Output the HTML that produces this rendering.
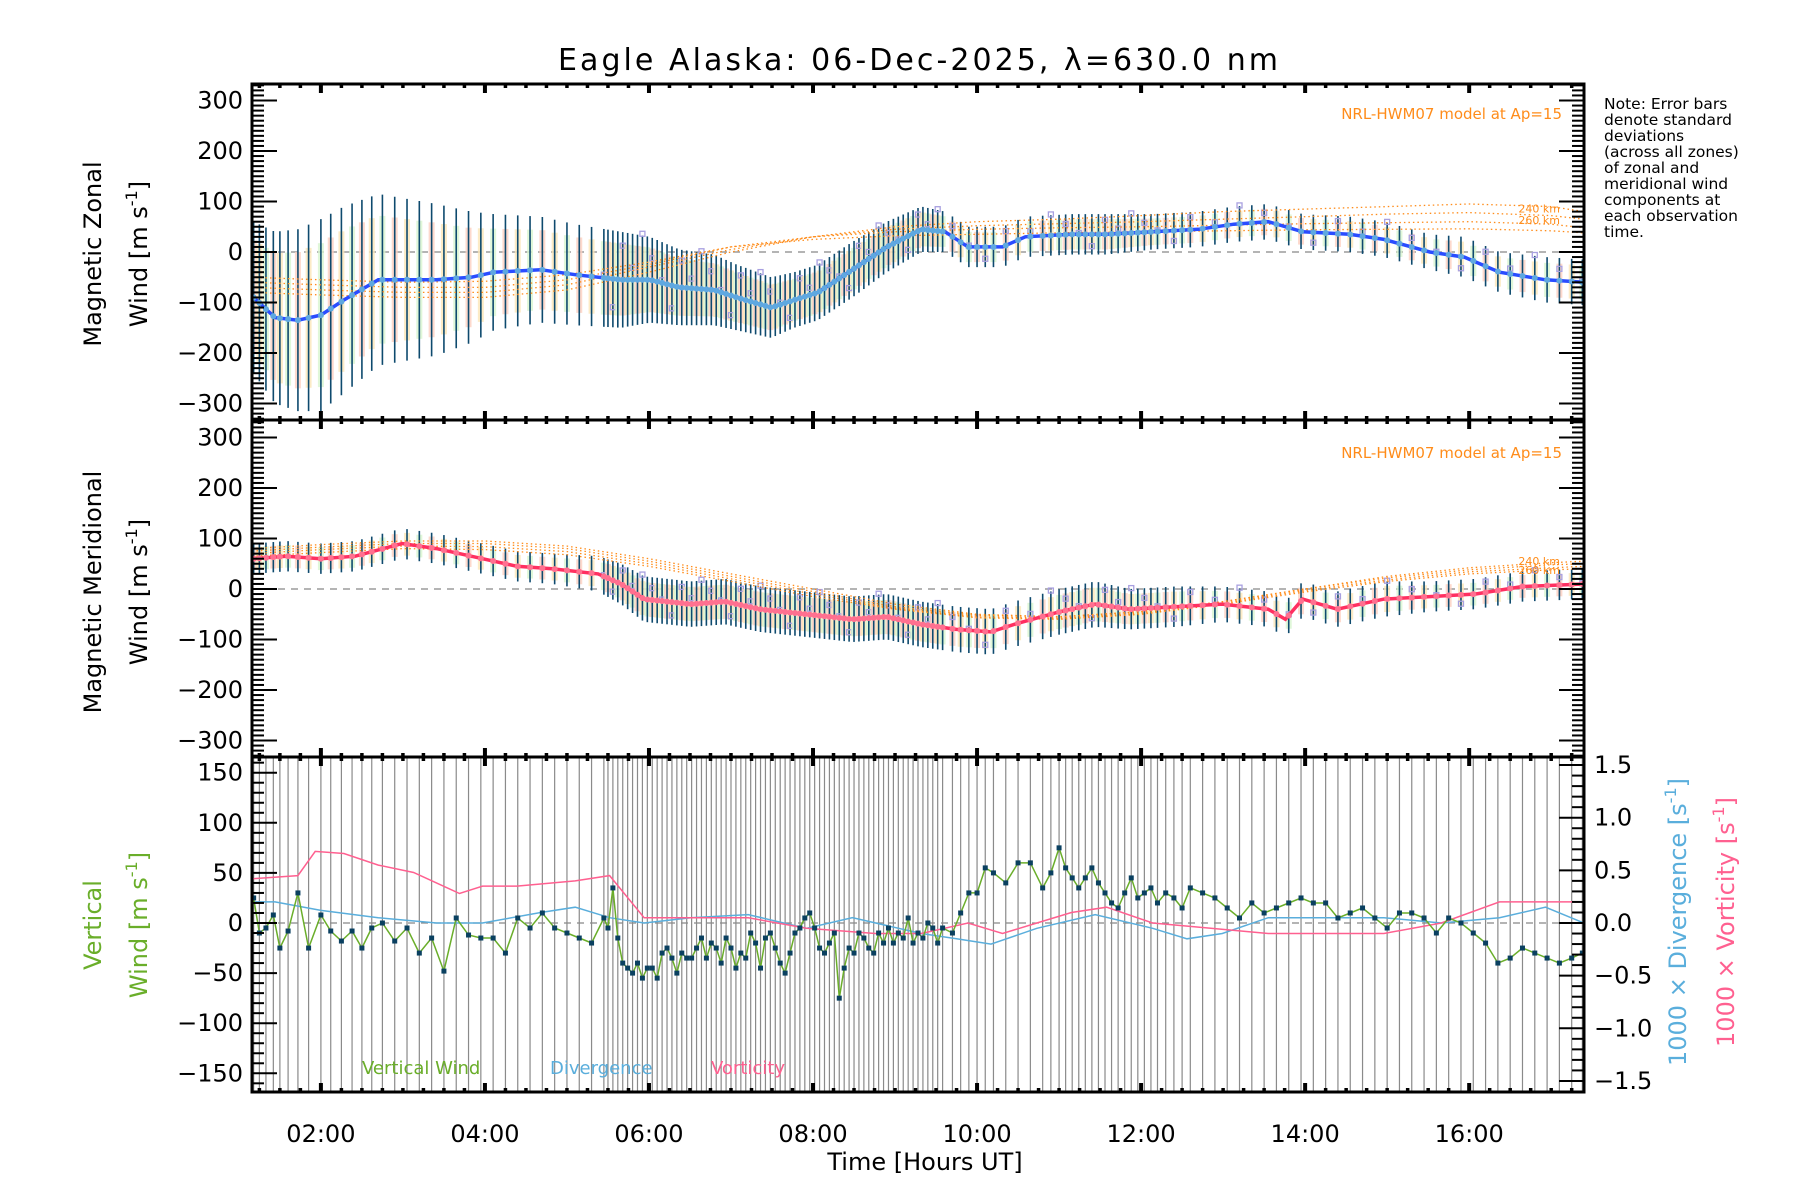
<!DOCTYPE html>
<html><head><meta charset="utf-8"><style>
html,body{margin:0;padding:0;background:#fff;}
svg{display:block;font-family:"DejaVu Sans","Liberation Sans",sans-serif;}
</style></head><body>
<svg id="chart" width="1800" height="1200" viewBox="0 0 1800 1200" xmlns="http://www.w3.org/2000/svg">
<rect width="1800" height="1200" fill="#fff"/>
<text x="918" y="70" font-size="30" text-anchor="middle" textLength="720">Eagle Alaska: 06-Dec-2025, λ=630.0 nm</text>
<g id="layer-bg"></g><g id="layer-data"></g><g id="layer-axes"></g>
<g font-size="15.5" fill="#000">
<text x="1604" y="109">Note: Error bars</text><text x="1604" y="125">denote standard</text><text x="1604" y="141">deviations</text><text x="1604" y="157">(across all zones)</text><text x="1604" y="173">of zonal and</text><text x="1604" y="189">meridional wind</text><text x="1604" y="205">components at</text><text x="1604" y="221">each observation</text><text x="1604" y="237">time.</text>
</g>
<text x="1562" y="119" font-size="15" fill="#ff8c1a" text-anchor="end">NRL-HWM07 model at Ap=15</text>
<text x="1562" y="458" font-size="15" fill="#ff8c1a" text-anchor="end">NRL-HWM07 model at Ap=15</text>
<g font-size="24" fill="#000">
<text transform="translate(101,254) rotate(-90)" text-anchor="middle">Magnetic Zonal</text>
<text transform="translate(147,254) rotate(-90)" text-anchor="middle">Wind [m s<tspan dy="-10" font-size="16">-1</tspan><tspan dy="10">]</tspan></text>
<text transform="translate(101,592) rotate(-90)" text-anchor="middle">Magnetic Meridional</text>
<text transform="translate(147,592) rotate(-90)" text-anchor="middle">Wind [m s<tspan dy="-10" font-size="16">-1</tspan><tspan dy="10">]</tspan></text>
<text transform="translate(101,925) rotate(-90)" text-anchor="middle" fill="#6aae2a">Vertical</text>
<text transform="translate(147,925) rotate(-90)" text-anchor="middle" fill="#6aae2a">Wind [m s<tspan dy="-10" font-size="16">-1</tspan><tspan dy="10">]</tspan></text>
<text transform="translate(1686,922) rotate(-90)" text-anchor="middle" fill="#5aaedc">1000 × Divergence [s<tspan dy="-10" font-size="16">-1</tspan><tspan dy="10">]</tspan></text>
<text transform="translate(1734,922) rotate(-90)" text-anchor="middle" fill="#ff6090">1000 × Vorticity [s<tspan dy="-10" font-size="16">-1</tspan><tspan dy="10">]</tspan></text>
<text x="925" y="1170" text-anchor="middle">Time [Hours UT]</text>
</g>
<g font-size="18">
<text x="362" y="1074" fill="#6aae2a">Vertical Wind</text>
<text x="550" y="1074" fill="#5aaedc">Divergence</text>
<text x="711" y="1074" fill="#ff6090">Vorticity</text>
</g>
</svg>
<script>
// ---- data ----
const zonalTimes=[1.18,1.44,1.72,2.0,2.28,2.70,3.41,3.83,4.11,4.68,5.10,5.66,6.01,6.37,6.79,7.07,7.49,7.77,8.06,8.48,8.90,9.32,9.61,9.89,10.31,10.59,11.15,11.58,12.14,12.70,13.13,13.55,13.97,14.54,14.96,15.52,15.94,16.37,16.93,17.4];
const zonalMean=[-90,-130,-135,-125,-95,-55,-55,-50,-40,-35,-45,-55,-55,-70,-75,-90,-110,-95,-80,-35,10,45,40,10,10,30,35,35,40,45,55,60,40,35,25,0,-10,-40,-55,-60];
const zonalStd=[150,170,180,190,185,170,150,130,115,105,100,95,85,75,70,65,60,55,55,55,50,45,40,40,40,40,40,40,35,35,35,35,35,35,35,35,40,40,45,45];
const meridTimes=[1.18,1.58,2.0,2.42,2.99,3.41,3.97,4.39,4.82,5.38,5.66,5.94,6.51,6.93,7.35,7.92,8.48,8.90,9.32,9.75,10.17,10.45,11.01,11.44,11.86,12.42,12.99,13.55,13.76,13.97,14.39,14.96,15.52,16.08,16.65,17.4];
const meridMean=[60,65,60,65,90,80,60,45,40,30,10,-20,-30,-25,-40,-50,-60,-55,-70,-80,-85,-70,-45,-30,-40,-35,-30,-40,-60,-20,-40,-20,-15,-10,5,10];
const meridStd=[30,30,30,30,30,30,30,30,30,35,40,45,45,45,45,45,45,45,45,45,45,45,45,45,40,40,35,35,35,35,35,35,30,30,30,30];
const modelTimes=[1.16,2,3,4,5,6,7,8,9,10,11,12,13,14,15,16,17,17.4];
const zonalModel240=[-80,-85,-90,-90,-75,-40,0,30,50,60,65,72,80,85,90,95,90,80];
const zonalModel260=[-70,-75,-80,-80,-65,-30,5,30,45,52,56,60,65,70,75,78,72,65];
const zonalModel220=[-60,-65,-70,-70,-55,-25,10,30,40,45,48,50,53,56,58,60,55,48];
const zonalModel200=[-50,-55,-60,-58,-45,-20,10,25,32,35,38,40,42,44,45,46,42,38];
const meridModel240=[80,88,95,95,85,60,30,0,-30,-50,-55,-45,-25,0,25,42,52,55];
const meridModel260=[75,83,90,90,80,55,25,-5,-35,-52,-55,-45,-25,0,22,38,48,50];
const meridModel220=[70,78,85,84,74,50,20,-10,-38,-55,-58,-48,-28,-3,18,34,42,45];
const meridModel200=[65,72,80,78,68,45,15,-15,-40,-57,-60,-50,-30,-6,15,30,38,40];
const vertTimes=[1.18,1.25,1.33,1.42,1.5,1.6,1.72,1.85,2.0,2.12,2.25,2.38,2.5,2.62,2.75,2.9,3.05,3.2,3.35,3.5,3.65,3.8,3.95,4.1,4.25,4.4,4.55,4.7,4.85,5.0,5.15,5.3,5.45,
5.5,5.56,5.62,5.68,5.74,5.8,5.86,5.92,5.98,6.04,6.1,6.16,6.22,6.28,6.34,6.4,6.46,6.52,6.58,6.64,6.7,6.76,6.82,6.88,6.94,7.0,7.06,7.12,7.18,7.24,7.3,7.36,7.42,7.48,7.54,7.6,7.66,7.72,7.78,7.84,7.9,7.96,8.02,8.08,8.14,8.2,8.26,8.32,8.38,8.44,8.5,8.56,8.62,8.68,8.74,8.8,8.86,8.92,8.98,9.04,9.1,9.16,9.22,9.28,9.34,9.4,9.46,9.52,9.58,
9.7,9.8,9.9,10.0,10.1,10.2,10.35,10.5,10.65,10.8,10.9,11.0,11.08,11.16,11.24,11.32,11.4,11.48,11.56,11.64,11.72,11.8,11.88,11.96,12.04,12.12,12.2,12.3,12.4,12.5,12.6,12.75,12.9,13.05,13.2,13.35,13.5,13.65,13.8,13.95,14.1,14.25,14.4,14.55,14.7,14.85,15.0,15.15,15.3,15.45,15.6,15.75,15.9,16.05,16.2,16.35,16.5,16.65,16.8,16.95,17.1,17.25,17.38];
const vertWind=[25,-10,-5,8,-25,-8,30,-25,8,-8,-18,-8,-25,-5,0,-18,-5,-30,-15,-48,5,-12,-15,-15,-30,5,-5,10,-5,-10,-15,-20,5,
-5,35,-15,-40,-45,-50,-40,-55,-45,-45,-55,-30,-25,-35,-50,-30,-35,-35,-25,-15,-35,-20,-25,-40,-15,-25,-45,-30,-35,-10,-20,-45,-15,-10,-25,-40,-50,-30,-10,-5,5,10,-5,-25,-30,-20,-10,-75,-45,-25,-30,-10,-15,-25,-30,-10,-20,-5,-20,-10,-15,5,-20,-10,-15,0,-5,-20,-5,
-10,10,30,30,55,50,40,60,60,35,50,75,55,45,35,45,55,40,30,20,15,30,45,25,30,35,20,30,25,15,35,30,25,15,5,20,10,15,20,25,20,20,5,10,15,5,-5,10,10,5,-10,5,0,-10,-20,-40,-35,-25,-30,-35,-40,-35,-30];
const divTimes=[1.16,1.44,2.0,2.70,3.41,3.97,4.68,5.10,5.52,5.94,6.51,7.21,7.92,8.48,9.32,9.75,10.17,10.73,11.44,12.14,12.56,12.99,13.55,14.25,14.96,15.66,16.37,16.93,17.4];
const divVals=[0.2,0.2,0.12,0.05,0.0,0.0,0.1,0.15,0.05,0.0,0.05,0.08,-0.05,0.05,-0.1,-0.15,-0.2,-0.05,0.08,-0.05,-0.15,-0.1,0.05,0.05,0.05,0.0,0.05,0.15,0.0];
const vortTimes=[1.16,1.72,1.93,2.28,2.70,3.13,3.69,3.97,4.39,5.10,5.52,5.94,6.51,7.21,7.92,8.76,9.32,9.89,10.31,10.73,11.15,11.58,12.14,12.85,13.55,14.25,14.96,15.66,16.37,16.93,17.4];
const vortVals=[0.42,0.45,0.68,0.66,0.55,0.48,0.28,0.35,0.35,0.4,0.45,0.05,0.05,0.05,-0.05,-0.1,-0.1,0,-0.1,0,0.1,0.15,0.0,-0.05,-0.1,-0.1,-0.1,0,0.2,0.2,0.2];
const xTickLabels=["02:00","04:00","06:00","08:00","10:00","12:00","14:00","16:00"];
const xTickHours=[2,4,6,8,10,12,14,16];
const windTicks=[300,200,100,0,-100,-200,-300];
const vertTicks=[150,100,50,0,-50,-100,-150];
const rightTicks=[1.5,1.0,0.5,0.0,-0.5,-1.0,-1.5];

// ---- geometry ----
const L=252,R=1584,T0=1.16,T1=17.4;
const panels=[{top:84,bot:420,zero:252,k:0.505},{top:420,bot:757,zero:589,k:0.505},{top:757,bot:1092,zero:923,k:1.002}];
const NS="http://www.w3.org/2000/svg";
const svg=document.getElementById('chart');
const bg=document.getElementById('layer-bg'),dl=document.getElementById('layer-data'),ax=document.getElementById('layer-axes');
function X(h){return L+(h-T0)*(R-L)/(T1-T0);}
function Y(p,v){return panels[p].zero-v*panels[p].k;}
function YR(v){return 923-v*105.3;}
function mk(tag,attrs,parent){const e=document.createElementNS(NS,tag);for(const k in attrs)e.setAttribute(k,attrs[k]);parent.appendChild(e);return e;}
function interp(ts,vs,t){if(t<=ts[0])return vs[0];for(let i=1;i<ts.length;i++){if(t<=ts[i]){const f=(t-ts[i-1])/(ts[i]-ts[i-1]);return vs[i-1]+f*(vs[i]-vs[i-1]);}}return vs[vs.length-1];}
function poly(pts,attrs,parent){return mk('polyline',Object.assign({points:pts.map(p=>p[0].toFixed(1)+','+p[1].toFixed(1)).join(' '),fill:'none'},attrs),parent);}

const defs=mk('defs',{},svg);
panels.forEach((p,i)=>{const c=mk('clipPath',{id:'clip'+i},defs);mk('rect',{x:L,y:p.top,width:R-L,height:p.bot-p.top},c);});

[0,1,2].forEach(i=>{const z=mk('line',{x1:L,x2:R,y1:panels[i].zero,y2:panels[i].zero,stroke:'#888','stroke-width':1.2,'stroke-dasharray':'7,6'},bg);

});

vertTimes.forEach(t=>{const ln=mk('line',{x1:X(t),x2:X(t),y1:757,y2:1092,stroke:'#8a8a8a','stroke-width':1.2},bg);

});

const jitter=[0.55,-0.7,0.2,-0.35,0.8,-0.15,0.4,-0.6,0.05,0.65,-0.45,0.3];
function windPanel(p,ts,mean,std,lineCol,ptCol,models){
  const g=mk('g',{'clip-path':'url(#clip'+p+')'},dl);
  
  
  vertTimes.forEach((t,i)=>{
    const m=interp(ts,mean,t),s=interp(ts,std,t),x=X(t);
    const band=mk('rect',{x:x-3,y:Y(p,m+s*0.75),width:6,height:s*1.5*panels[p].k,fill:(i%3===0?'#fcd0c0':(i%3===1?'#fbe6b8':'#d8f5d0')),opacity:0.8},g);
    
    
    const eb=mk('line',{x1:x,x2:x,y1:Y(p,m+s),y2:Y(p,m-s),stroke:'#0e4a6e','stroke-width':1.6},g);
    
    
    if(t>5.3&&i%2===0){
      const sq=mk('rect',{x:x-2.5,y:Y(p,m+s*jitter[i%12]*1.3)-2.5,width:5,height:5,fill:'none',stroke:'#a8a0e0','stroke-width':1.3},g);
      
      
    }
  });
  models.forEach(mv=>{const ml=poly(modelTimes.map((t,i)=>[X(t),Y(p,mv[i])]),{stroke:'#ff8c1a','stroke-width':1.3,'stroke-dasharray':'1.5,3'},g);
    
    });
  const ml=poly(ts.map((t,i)=>[X(t),Y(p,mean[i])]),{stroke:lineCol,'stroke-width':3.5},g);
  
  
  vertTimes.forEach(t=>{const c=mk('circle',{cx:X(t),cy:Y(p,interp(ts,mean,t)),r:3,fill:ptCol},g);
    
    });
}
windPanel(0,zonalTimes,zonalMean,zonalStd,'#2a4cff','#5fa8e0',[zonalModel240,zonalModel260,zonalModel220,zonalModel200]);
windPanel(1,meridTimes,meridMean,meridStd,'#ff3060','#ff7090',[meridModel240,meridModel260,meridModel220,meridModel200]);
[[X(16.6),Y(0,78),'240 km'],[X(16.6),Y(0,55),'260 km'],[X(16.6),Y(1,48),'240 km'],[X(16.6),Y(1,30),'260 km']].forEach(a=>{
  const t=mk('text',{x:a[0],y:a[1],'font-size':11,fill:'#ff8c1a'},dl);t.textContent=a[2];
  
  });

const gb=mk('g',{'clip-path':'url(#clip2)'},dl);
const dv=poly(divTimes.map((t,i)=>[X(t),YR(divVals[i])]),{stroke:'#5aaedc','stroke-width':1.5},gb);


const vo=poly(vortTimes.map((t,i)=>[X(t),YR(vortVals[i])]),{stroke:'#ff6090','stroke-width':1.5},gb);


const vw=poly(vertTimes.map((t,i)=>[X(t),Y(2,vertWind[i])]),{stroke:'#6aae2a','stroke-width':1.5},gb);


vertTimes.forEach((t,i)=>{const r=mk('rect',{x:X(t)-2.5,y:Y(2,vertWind[i])-2.5,width:5,height:5,fill:'#0a4060'},gb);
  
  });

panels.forEach((p,i)=>{const fr=mk('rect',{x:L,y:p.top,width:R-L,height:p.bot-p.top,fill:'none',stroke:'#000','stroke-width':3},ax);
  
  });
function tick(x1,y1,x2,y2,w){mk('line',{x1:x1,y1:y1,x2:x2,y2:y2,stroke:'#000','stroke-width':w},ax);}
for(let h=1.25;h<=17.4;h+=0.25){const x=X(h),maj=Math.abs(h-Math.round(h/2)*2)<0.01;const len=maj?9:4;
  panels.forEach(p=>{tick(x,p.top,x,p.top+len,maj?4:3.5);tick(x,p.bot,x,p.bot-len,maj?4:3.5);});}
xTickHours.forEach((h,i)=>{const t=mk('text',{x:X(h),y:1142,'font-size':24,'text-anchor':'middle'},ax);t.textContent=xTickLabels[i];
  
  });
[0,1].forEach(p=>{for(let v=-330;v<=330;v+=10){const y=Y(p,v);if(y<panels[p].top+1||y>panels[p].bot-1)continue;const maj=v%100===0;const len=maj?25:12;
  tick(L,y,L+len,y,2);tick(R,y,R-len,y,2);}
  windTicks.forEach(v=>{const t=mk('text',{x:243,y:Y(p,v)+8,'font-size':24,'text-anchor':'end'},ax);t.textContent=(v<0?'−':'')+Math.abs(v);
    
    });});
for(let v=-160;v<=160;v+=10){const y=Y(2,v);if(y<758||y>1091)continue;const maj=v%50===0;tick(L,y,L+(maj?25:12),y,2);}
vertTicks.forEach(v=>{const t=mk('text',{x:243,y:Y(2,v)+8,'font-size':24,'text-anchor':'end'},ax);t.textContent=(v<0?'−':'')+Math.abs(v);
  
  });
for(let v=-15;v<=15;v+=1){const y=YR(v/10);if(y<758||y>1091)continue;const maj=v%5===0;tick(R,y,R-(maj?25:12),y,2);}
rightTicks.forEach(v=>{const t=mk('text',{x:1594,y:YR(v)+8,'font-size':24},ax);t.textContent=(v<0?'−':'')+Math.abs(v).toFixed(1);
  
  });
</script>
</body></html>
